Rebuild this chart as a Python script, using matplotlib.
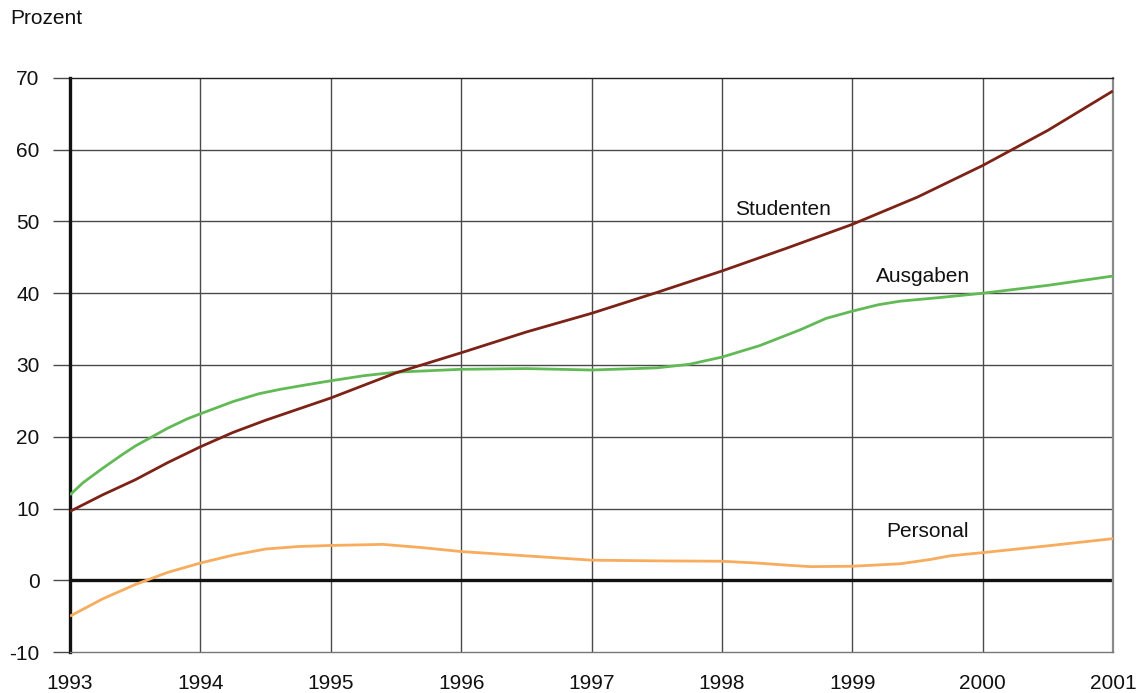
import matplotlib
matplotlib.use("Agg")
import matplotlib.pyplot as plt

# Data (percent change since 1993)
years_stud = [1993.0, 1993.25, 1993.5, 1993.75, 1994.0, 1994.25, 1994.5, 1995.0,
              1995.5, 1996.0, 1996.5, 1997.0, 1997.5, 1998.0, 1998.5, 1999.0,
              1999.5, 2000.0, 2000.5, 2001.0]
studenten = [9.6, 11.9, 14.0, 16.4, 18.6, 20.6, 22.3, 25.4,
             28.9, 31.7, 34.6, 37.2, 40.1, 43.1, 46.3, 49.6,
             53.4, 57.8, 62.7, 68.2]

years_ausg = [1993.0, 1993.1, 1993.25, 1993.4, 1993.5, 1993.64, 1993.75, 1993.9,
              1994.0, 1994.25, 1994.45, 1994.61, 1994.8, 1995.0, 1995.25, 1995.5,
              1996.0, 1996.5, 1997.0, 1997.5, 1997.75, 1998.0, 1998.29, 1998.6,
              1998.8, 1999.0, 1999.2, 1999.37, 1999.67, 2000.0, 2000.5, 2001.0]
ausgaben = [11.9, 13.6, 15.6, 17.5, 18.7, 20.1, 21.2, 22.5,
            23.2, 24.9, 26.0, 26.6, 27.2, 27.8, 28.5, 29.0,
            29.4, 29.5, 29.3, 29.6, 30.1, 31.1, 32.7, 34.9,
            36.5, 37.5, 38.4, 38.9, 39.4, 40.0, 41.1, 42.4]

years_pers = [1993.0, 1993.25, 1993.5, 1993.75, 1994.0, 1994.25, 1994.5, 1994.75,
              1995.0, 1995.4, 1995.7, 1996.0, 1996.5, 1997.0, 1997.5, 1998.0,
              1998.27, 1998.5, 1998.68, 1999.0, 1999.37, 1999.6, 1999.75, 2000.0,
              2000.5, 2001.0]
personal = [-5.0, -2.6, -0.6, 1.1, 2.4, 3.5, 4.35, 4.7,
            4.85, 5.0, 4.55, 4.0, 3.4, 2.8, 2.7, 2.65,
            2.4, 2.1, 1.9, 1.95, 2.3, 2.9, 3.4, 3.85,
            4.8, 5.8]

x_ticks = [1993, 1994, 1995, 1996, 1997, 1998, 1999, 2000, 2001]
y_ticks = [-10, 0, 10, 20, 30, 40, 50, 60, 70]

labels = {"Studenten": (1998.47, 51.7),
          "Ausgaben": (1999.54, 42.4),
          "Personal": (1999.58, 6.8)}

plt.rcParams['font.family'] = ['Liberation Sans', 'DejaVu Sans']
FS = 15

fig = plt.figure(figsize=(11.43, 6.93), dpi=100)
ax = fig.add_axes([70 / 1143, 1 - 652 / 693, (1113 - 70) / 1143, (652 - 78) / 693])

grid_col = "#4a4a4a"
for x in x_ticks[1:-1]:
    ax.axvline(x, color=grid_col, lw=1.0, zorder=1)
for y in y_ticks[1:-1]:
    if y != 0:
        ax.axhline(y, color=grid_col, lw=1.0, zorder=1)
ax.axhline(0, color="#111111", lw=2.4, zorder=2)

ax.plot(years_pers, personal, color="#F7AC5E", lw=2.0, zorder=3,
        solid_capstyle="butt", solid_joinstyle="round")
ax.plot(years_ausg, ausgaben, color="#62BA56", lw=2.0, zorder=3,
        solid_capstyle="butt", solid_joinstyle="round")
ax.plot(years_stud, studenten, color="#7D2216", lw=2.0, zorder=4,
        solid_capstyle="butt", solid_joinstyle="round")

for name, (lx, ly) in labels.items():
    ax.text(lx, ly, name, ha="center", va="center", fontsize=FS, color="#111111")

ax.set_xlim(1993, 2001)
ax.set_ylim(-10, 70)
ax.set_xticks(x_ticks)
ax.set_yticks(y_ticks)
ax.set_xticklabels([str(v) for v in x_ticks])
ax.set_yticklabels([str(v) for v in y_ticks])
ax.tick_params(axis="y", direction="out", length=12, width=1.0, color=grid_col,
               pad=10, labelsize=FS, labelcolor="#111111")
ax.tick_params(axis="x", length=0, pad=16, labelsize=FS, labelcolor="#111111")

ax.spines["left"].set_color("#111111")
ax.spines["left"].set_linewidth(2.4)
ax.spines["top"].set_color("#222222")
ax.spines["top"].set_linewidth(1.0)
ax.spines["right"].set_color("#8a8a8a")
ax.spines["right"].set_linewidth(1.6)
ax.spines["bottom"].set_color("#777777")
ax.spines["bottom"].set_linewidth(1.0)

fig.text(10 / 1143, 1 - 18 / 693, "Prozent", ha="left", va="center", fontsize=FS,
         color="#111111")

fig.savefig("out.png", dpi=100)
